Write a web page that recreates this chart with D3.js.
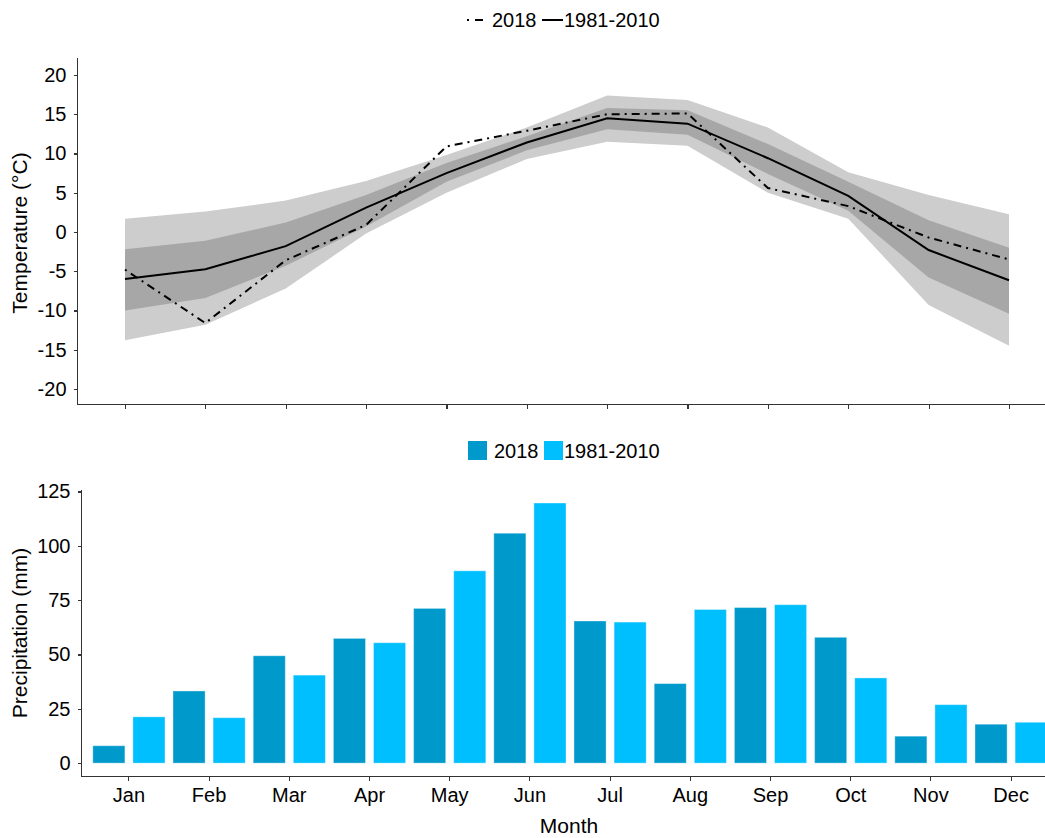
<!DOCTYPE html>
<html>
<head>
<meta charset="utf-8">
<script src="https://cdn.jsdelivr.net/npm/d3@7"></script>
<style>
  body { margin: 0; background: #fff; }
  svg { display: block; font-family: "Liberation Sans", Arial, sans-serif; }
  .axis path, .axis line { stroke: #333; stroke-width: 1.1; shape-rendering: crispEdges; }
  .axis text { font-size: 20px; fill: #000; }
  .title { font-size: 21px; fill: #000; }
  .legend text { font-size: 20px; fill: #000; }
</style>
</head>
<body>
<svg id="chart" width="1045" height="838"></svg>
<script>
var months = ['Jan','Feb','Mar','Apr','May','Jun','Jul','Aug','Sep','Oct','Nov','Dec'];

// temperature (°C)
var temp2018   = [-4.8, -11.6, -3.6, 0.9, 10.9, 12.9, 15.0, 15.1, 5.6, 3.3, -0.7, -3.5];
var tempNormal = [-6.0, -4.75, -1.8, 3.1, 7.5, 11.4, 14.5, 13.8, 9.4, 4.6, -2.3, -6.15];
var outerHigh  = [1.7, 2.6, 4.0, 6.5, 9.8, 13.3, 17.4, 16.8, 13.3, 7.6, 4.7, 2.25];
var outerLow   = [-13.8, -11.8, -7.2, -0.2, 5.0, 9.3, 11.5, 11.0, 5.0, 1.7, -9.3, -14.5];
var innerHigh  = [-2.2, -1.1, 1.2, 4.7, 8.8, 12.2, 15.8, 15.5, 11.2, 6.4, 1.5, -2.0];
var innerLow   = [-10.0, -8.4, -4.3, 0.7, 6.4, 10.4, 13.1, 12.4, 7.4, 2.7, -5.8, -10.4];
var tempTicks  = [-20, -15, -10, -5, 0, 5, 10, 15, 20];

// precipitation (mm)
var series     = ['2018', '1981-2010'];
var prec2018   = [8.0, 33.2, 49.4, 57.4, 71.2, 105.8, 65.4, 36.6, 71.6, 57.9, 12.4, 17.9];
var precNormal = [21.3, 20.9, 40.5, 55.4, 88.5, 119.7, 64.9, 70.7, 72.9, 39.2, 26.9, 18.8];
var precTicks  = [0, 25, 50, 75, 100, 125];

var colors = {'2018': '#0099cc', '1981-2010': '#00bfff'};

// plain hyphen for negatives, like the original
var plain = function(d) { return String(d); };

var svg = d3.select("#chart");

/* ---------- temperature panel ---------- */
var xT = d3.scalePoint().domain(months).range([125, 1009]);
var yT = d3.scaleLinear().domain([-22, 22]).range([404.7, 59.3]);

var area = function(lo, hi) {
  return d3.area()
    .x(function(d, i) { return xT(months[i]); })
    .y0(function(d, i) { return yT(lo[i]); })
    .y1(function(d, i) { return yT(hi[i]); })(months);
};
var line = d3.line()
  .x(function(d, i) { return xT(months[i]); })
  .y(function(d) { return yT(d); });

svg.append("path").attr("d", area(outerLow, outerHigh)).attr("fill", "#cdcdcd");
svg.append("path").attr("d", area(innerLow, innerHigh)).attr("fill", "#a7a7a7");

svg.append("path")
  .datum(tempNormal)
  .attr("d", line)
  .attr("fill", "none")
  .attr("stroke", "#000")
  .attr("stroke-width", 2);

svg.append("path")
  .datum(temp2018)
  .attr("d", line)
  .attr("fill", "none")
  .attr("stroke", "#000")
  .attr("stroke-width", 2)
  .attr("stroke-dasharray", "2,5,8,5");

svg.append("g")
  .attr("class", "axis")
  .attr("transform", "translate(77.5,0)")
  .call(d3.axisLeft(yT).tickValues(tempTicks).tickFormat(plain).tickSize(4).tickPadding(7).tickSizeOuter(0))
  .call(function(g) { g.select(".domain").attr("d", "M0,58V404.5"); });

svg.append("g")
  .attr("class", "axis")
  .attr("transform", "translate(0,404.5)")
  .call(d3.axisBottom(xT).tickSize(4).tickFormat("").tickSizeOuter(0))
  .call(function(g) { g.select(".domain").attr("d", "M77.5,0H1045"); });

svg.append("text")
  .attr("class", "title")
  .attr("transform", "translate(27,233) rotate(-90)")
  .attr("text-anchor", "middle")
  .text("Temperature (°C)");

// line legend
var legT = svg.append("g").attr("class", "legend");
legT.append("line")
  .attr("x1", 467).attr("x2", 487).attr("y1", 20).attr("y2", 20)
  .attr("stroke", "#000").attr("stroke-width", 2)
  .attr("stroke-dasharray", "2,6,8,5");
legT.append("text").attr("x", 492).attr("y", 27).text(series[0]);
legT.append("line")
  .attr("x1", 542).attr("x2", 563).attr("y1", 20).attr("y2", 20)
  .attr("stroke", "#000").attr("stroke-width", 2);
legT.append("text").attr("x", 564).attr("y", 27).text(series[1]);

/* ---------- precipitation panel ---------- */
var x0 = d3.scaleBand().domain(months).range([88.8, 88.8 + 12 * 80.2]);
var x1 = d3.scaleBand().domain(series).range([0, x0.bandwidth()])
  .paddingInner(0.2).paddingOuter(0.1);
var yP = d3.scaleLinear().domain([-6.25, 125]).range([776.7, 491.5]);

var precData = months.map(function(m, i) {
  return {month: m, values: [
    {key: series[0], value: prec2018[i]},
    {key: series[1], value: precNormal[i]}
  ]};
});

svg.append("g")
  .selectAll("g")
  .data(precData)
  .enter().append("g")
  .attr("transform", function(d) { return "translate(" + x0(d.month) + ",0)"; })
  .selectAll("rect")
  .data(function(d) { return d.values; })
  .enter().append("rect")
  .attr("x", function(d) { return x1(d.key); })
  .attr("width", x1.bandwidth())
  .attr("y", function(d) { return yP(d.value); })
  .attr("height", function(d) { return yP(0) - yP(d.value); })
  .attr("fill", function(d) { return colors[d.key]; })
  .attr("stroke", "#fff")
  .attr("stroke-opacity", 0.35)
  .attr("stroke-width", 1);

svg.append("g")
  .attr("class", "axis")
  .attr("transform", "translate(81.5,0)")
  .call(d3.axisLeft(yP).tickValues(precTicks).tickFormat(plain).tickSize(4).tickPadding(7).tickSizeOuter(0))
  .call(function(g) { g.select(".domain").attr("d", "M0,490V776.7"); });

svg.append("g")
  .attr("class", "axis")
  .attr("transform", "translate(0,776.7)")
  .call(d3.axisBottom(x0).tickSize(4).tickPadding(7).tickSizeOuter(0))
  .call(function(g) { g.select(".domain").attr("d", "M81.5,0H1045"); });

svg.append("text")
  .attr("class", "title")
  .attr("transform", "translate(27,633) rotate(-90)")
  .attr("text-anchor", "middle")
  .text("Precipitation (mm)");

svg.append("text")
  .attr("class", "title")
  .attr("x", 569).attr("y", 833)
  .attr("text-anchor", "middle")
  .text("Month");

// bar legend
var legP = svg.append("g").attr("class", "legend");
legP.append("rect").attr("x", 468).attr("y", 441).attr("width", 19).attr("height", 19)
  .attr("fill", colors[series[0]]);
legP.append("text").attr("x", 494).attr("y", 458).text(series[0]);
legP.append("rect").attr("x", 544).attr("y", 441).attr("width", 19).attr("height", 19)
  .attr("fill", colors[series[1]]);
legP.append("text").attr("x", 564).attr("y", 458).text(series[1]);
</script>
</body>
</html>
